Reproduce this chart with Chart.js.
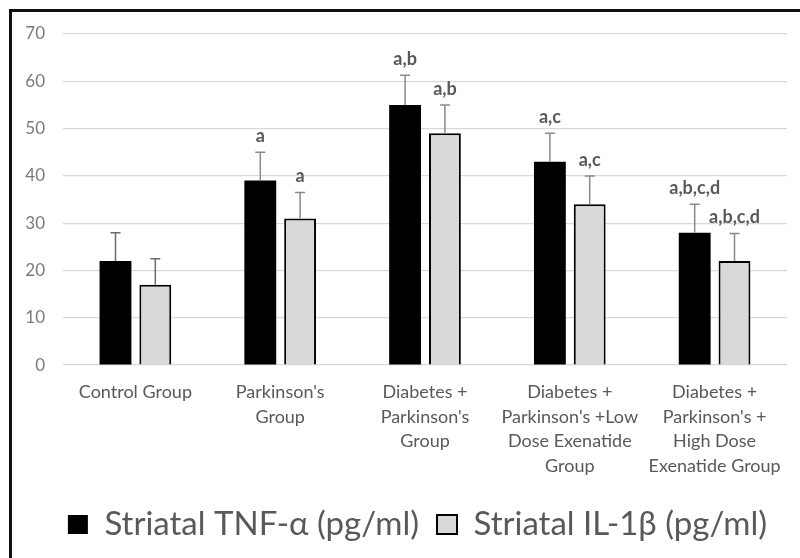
<!DOCTYPE html>
<html>
<head>
<meta charset="utf-8">
<script src="https://cdn.jsdelivr.net/npm/chart.js@4.4.1/dist/chart.umd.min.js"></script>
<style>
    body { margin: 0; background: #fff; }
    #frame {
        position: absolute; left: 9px; top: 9px;
        width: 788px; height: 546px;
        border-top: 3px solid #111; border-left: 3px solid #111;
    }
    #box { position: relative; width: 788px; height: 546px; }
</style>
</head>
<body>
<div id="frame"><div id="box"><canvas id="myChart"></canvas></div></div>
<script>
// data
const groups = [
    ['Control Group'],
    ["Parkinson's", 'Group'],
    ['Diabetes +', "Parkinson's", 'Group'],
    ['Diabetes +', "Parkinson's +Low", 'Dose Exenatide', 'Group'],
    ['Diabetes +', "Parkinson's +", 'High Dose', 'Exenatide Group']
];
const tnfValues = [22, 39, 55, 43, 28];
const tnfErrors = [6, 6, 6.3, 6, 6];
const tnfSig = ['', 'a', 'a,b', 'a,c', 'a,b,c,d'];
const ilValues = [17, 31, 49, 34, 22];
const ilErrors = [5.5, 5.5, 6, 6, 5.8];
const ilSig = ['', 'a', 'a,b', 'a,c', 'a,b,c,d'];
const yTicks = [0, 10, 20, 30, 40, 50, 60, 70];

const errorBars = {
    id: 'errorBars',
    afterDatasetsDraw(chart) {
        const ctx = chart.ctx;
        const y = chart.scales.y;
        const errs = [tnfErrors, ilErrors];
        const sigs = [tnfSig, ilSig];
        chart.data.datasets.forEach((ds, i) => {
            const meta = chart.getDatasetMeta(i);
            meta.data.forEach((bar, j) => {
                const top = y.getPixelForValue(ds.data[j] + errs[i][j]);
                ctx.save();
                ctx.strokeStyle = j === 0 ? '#6b6b6b' : '#8a8a8a';
                ctx.lineWidth = 1.5;
                ctx.beginPath();
                ctx.moveTo(bar.x, bar.y);
                ctx.lineTo(bar.x, top);
                ctx.moveTo(bar.x - 5, top);
                ctx.lineTo(bar.x + 5, top);
                ctx.stroke();
                if (sigs[i][j]) {
                    ctx.fillStyle = '#595959';
                    ctx.font = 'bold 18px Lato';
                    ctx.textAlign = 'center';
                    ctx.textBaseline = 'bottom';
                    ctx.fillText(sigs[i][j], bar.x, top - 7);
                }
                ctx.restore();
            });
        });
    }
};

// the legend sits a bit right of the middle in the original
const legendShift = {
    id: 'legendShift',
    afterLayout(chart) {
        chart.legend.left += 18;
        chart.legend.right += 18;
    }
};

const config = {
    type: 'bar',
    data: {
        labels: groups,
        datasets: [{
            label: 'Striatal TNF-\u03b1 (pg/ml)',
            data: tnfValues,
            backgroundColor: '#000000',
            borderColor: '#000000',
            borderWidth: 0
        }, {
            label: 'Striatal IL-1\u03b2 (pg/ml)',
            data: ilValues,
            backgroundColor: '#d9d9d9',
            borderColor: '#000000',
            borderWidth: 2
        }]
    },
    options: {
        responsive: true,
        maintainAspectRatio: false,
        animation: false,
        categoryPercentage: 0.55,
        barPercentage: 0.8,
        layout: { padding: { left: 0, right: 13, top: 22, bottom: 7 } },
        plugins: {
            legend: {
                position: 'bottom',
                labels: {
                    color: '#595959',
                    font: { family: 'Lato', size: 33 },
                    boxWidth: 20,
                    boxHeight: 19,
                    padding: 18
                }
            },
            tooltip: { enabled: false }
        },
        scales: {
            x: {
                grid: { display: false, drawTicks: false },
                border: { display: false },
                ticks: {
                    color: '#595959',
                    font: { family: 'Lato', size: 18, lineHeight: 1.36 },
                    maxRotation: 0,
                    autoSkip: false,
                    padding: 15
                },
                afterFit: (axis) => { axis.height -= 3; }
            },
            y: {
                min: 0,
                max: 70,
                afterBuildTicks: (axis) => { axis.ticks = yTicks.map(v => ({ value: v })); },
                afterFit: (axis) => {
                    axis.width = 51;
                    axis.paddingTop = 0;
                    axis.paddingBottom = 0;
                },
                grid: { color: '#d9d9d9', lineWidth: 1.2, drawTicks: false },
                border: { display: false },
                ticks: {
                    color: '#7a7a7a',
                    font: { family: 'Lato', size: 17 },
                    padding: 18
                }
            }
        }
    },
    plugins: [errorBars, legendShift]
};

new Chart(document.getElementById('myChart').getContext('2d'), config);
</script>
</body>
</html>
